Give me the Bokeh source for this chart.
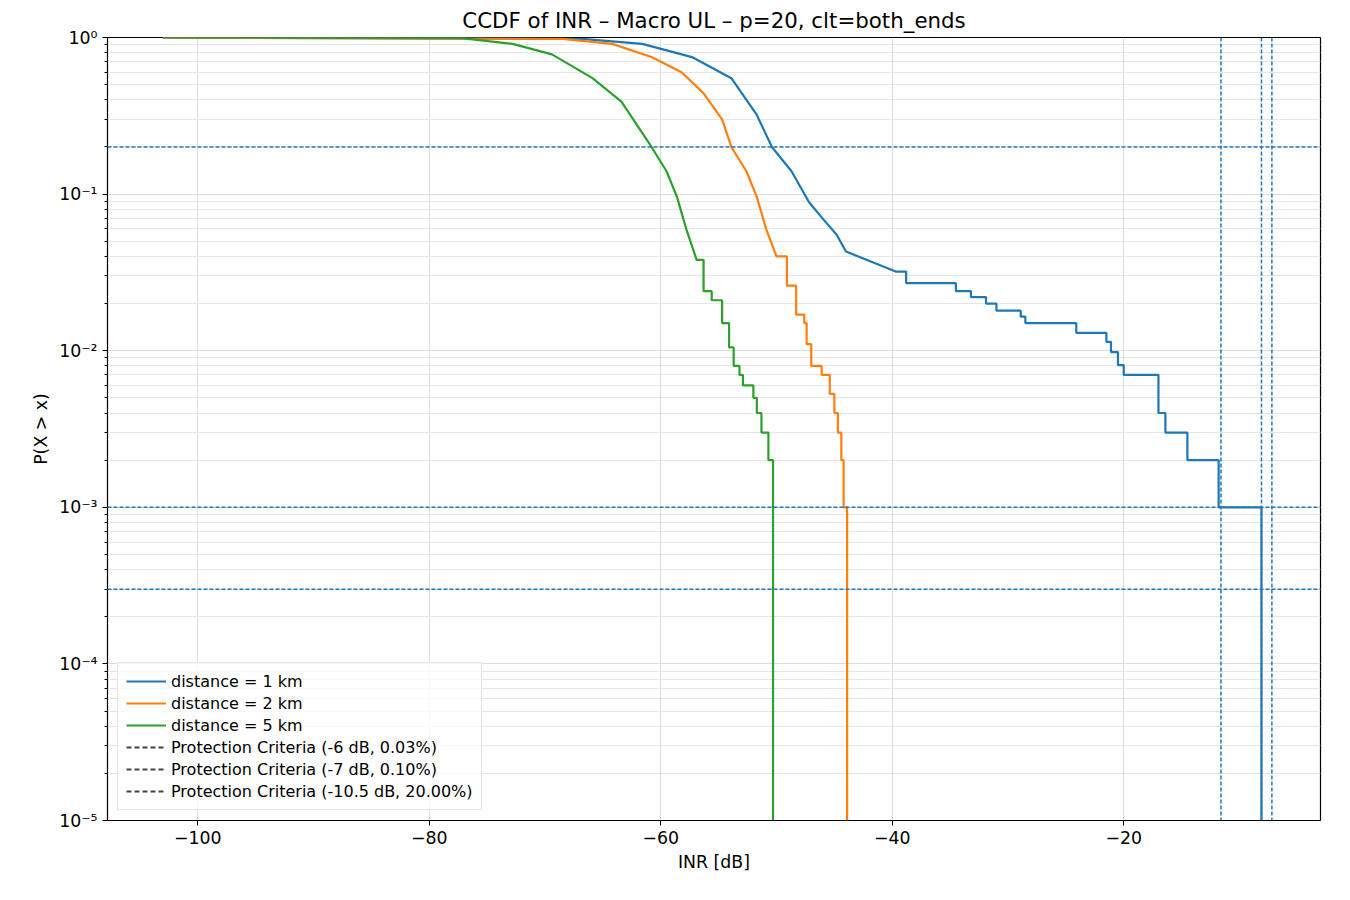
from bokeh.embed import file_html
from bokeh.models import ColumnDataSource, CustomJSTickFormatter, FixedTicker, Legend, LegendItem, Span
from bokeh.plotting import figure
from bokeh.resources import INLINE

# CCDF estimates (INR dB, P(X > x))
d1_x = [-103, -66.8, -61.6, -57.3, -53.9, -51.7, -50.4, -48.7, -47.2, -46.1, -44.8, -44.0, -41.8, -39.7,
        -38.8, -35.2, -34.5, -33.2, -31.9, -31.0, -28.9, -28.5, -24.6, -24.1, -21.6, -21.5, -21.1, -20.5,
        -20.0, -17.4, -17.0, -16.4, -14.5, -11.8, -8.2, -8.1]
d1_y = [1.0, 0.98, 0.91, 0.75, 0.55, 0.32, 0.2, 0.14, 0.089, 0.071, 0.055, 0.043, 0.037, 0.032,
        0.027, 0.027, 0.024, 0.022, 0.02, 0.018, 0.0165, 0.015, 0.015, 0.013, 0.013, 0.0114, 0.0098, 0.0081,
        0.007, 0.007, 0.004, 0.003, 0.002, 0.001, 0.001, 1e-5]

d2_x = [-103, -68.5, -64.2, -60.8, -58.2, -56.3, -54.7, -53.9, -52.6, -51.7, -50.9, -50.0, -49.1, -48.3,
        -47.6, -47.4, -47.0, -46.1, -45.4, -45.0, -44.7, -44.4, -44.2, -43.9]
d2_y = [1.0, 0.98, 0.91, 0.75, 0.6, 0.44, 0.3, 0.2, 0.14, 0.096, 0.06, 0.04, 0.026, 0.017,
        0.015, 0.011, 0.008, 0.007, 0.0053, 0.004, 0.003, 0.002, 0.001, 1e-5]

d5_x = [-103, -77.2, -72.8, -69.4, -65.9, -63.4, -60.8, -59.5, -58.6, -57.8, -56.9, -56.3, -55.6, -54.7,
        -54.1, -53.7, -53.2, -52.9, -52.0, -51.7, -51.3, -50.7, -50.3]
d5_y = [1.0, 0.99, 0.91, 0.78, 0.55, 0.39, 0.2, 0.14, 0.096, 0.06, 0.038, 0.024, 0.021, 0.015,
        0.0105, 0.008, 0.007, 0.006, 0.005, 0.004, 0.003, 0.002, 1e-5]

series = [("distance = 1 km", d1_x, d1_y, "#1f77b4"),
          ("distance = 2 km", d2_x, d2_y, "#ff7f0e"),
          ("distance = 5 km", d5_x, d5_y, "#2ca02c")]

h_lines = [0.2, 0.001, 0.0003]
v_lines = [-11.6, -8.1, -7.2]
criteria = ["Protection Criteria (-6 dB, 0.03%)",
            "Protection Criteria (-7 dB, 0.10%)",
            "Protection Criteria (-10.5 dB, 20.00%)"]

FONT = "DejaVu Sans"
SMOOTH_ABOVE = 0.03  # dense part of the curve looks continuous, sparse tail is stepped


def ccdf_path(xs, ys):
    px, py = [xs[0]], [ys[0]]
    for x, y in zip(xs[1:], ys[1:]):
        if y < SMOOTH_ABOVE:
            px.append(x)
            py.append(py[-1])
        px.append(x)
        py.append(y)
    return px, py


p = figure(width=1334, height=884, output_backend="svg", toolbar_location=None,
           y_axis_type="log", x_range=(-107.8, -3.0), y_range=(1e-5, 1),
           title="CCDF of INR – Macro UL – p=20, clt=both_ends",
           x_axis_label="INR [dB]", y_axis_label="P(X > x)",
           min_border_left=107, min_border_right=14, min_border_top=20, min_border_bottom=64)
p.title.align = "center"
p.title.text_font = FONT
p.title.text_font_size = "16pt"
p.title.text_font_style = "normal"
p.title.text_color = "black"
p.outline_line_color = "black"
p.outline_line_width = 1.2

for ax in (p.xaxis, p.yaxis):
    ax.axis_label_text_font = FONT
    ax.axis_label_text_font_size = "13pt"
    ax.axis_label_text_font_style = "normal"
    ax.axis_label_text_color = "black"
    ax.major_label_text_font = FONT
    ax.major_label_text_font_size = "13pt"
    ax.major_label_text_color = "black"
    ax.axis_line_color = None
    ax.major_tick_line_color = "black"
    ax.minor_tick_line_color = "black"
    ax.major_tick_out = 5
    ax.major_tick_in = 0

p.xaxis.ticker = FixedTicker(ticks=[-100, -80, -60, -40, -20])
p.xaxis.minor_tick_line_color = None
p.yaxis.ticker = FixedTicker(ticks=[1e-5, 1e-4, 1e-3, 1e-2, 1e-1, 1],
                             minor_ticks=[m * 10 ** e for e in range(-5, 0) for m in range(2, 10)])
p.yaxis.minor_tick_out = 3
p.yaxis.minor_tick_in = 0
p.yaxis.formatter = CustomJSTickFormatter(code="""
const sup = {'-':'\u207b','0':'\u2070','1':'\u00b9','2':'\u00b2','3':'\u00b3','4':'\u2074','5':'\u2075'};
const e = Math.round(Math.log10(tick));
return '10' + String(e).split('').map(c => sup[c]).join('');
""")

p.xgrid.grid_line_color = "#dddddd"
p.ygrid.grid_line_color = "#dddddd"
p.ygrid.minor_grid_line_color = "#e6e6e6"

items = []
for name, xs, ys, color in series:
    px, py = ccdf_path(xs, ys)
    r = p.line(px, py, line_color=color, line_width=2.2)
    items.append(LegendItem(label=name, renderers=[r]))

for y in h_lines:
    p.add_layout(Span(location=y, dimension="width", line_color="#1f77b4", line_dash="4 2", line_width=1.5))
for x in v_lines:
    p.add_layout(Span(location=x, dimension="height", line_color="#1f77b4", line_dash="4 2", line_width=1.5))

# legend-only glyphs, placed outside the visible range
offscreen = ColumnDataSource(data=dict(x=[-300, -299], y=[0.5, 0.5]))
for label in criteria:
    r = p.line("x", "y", source=offscreen, line_color="#444444", line_dash="5 3", line_width=2.2)
    items.append(LegendItem(label=label, renderers=[r]))

legend = Legend(items=items, location="bottom_left", label_text_font=FONT, label_text_font_size="12pt",
                label_text_color="black", border_line_color="#cccccc", background_fill_alpha=0.8,
                spacing=2, padding=8, label_height=20, glyph_width=40, margin=10)
p.add_layout(legend)

open("out.html", "w").write(file_html(p, INLINE))
